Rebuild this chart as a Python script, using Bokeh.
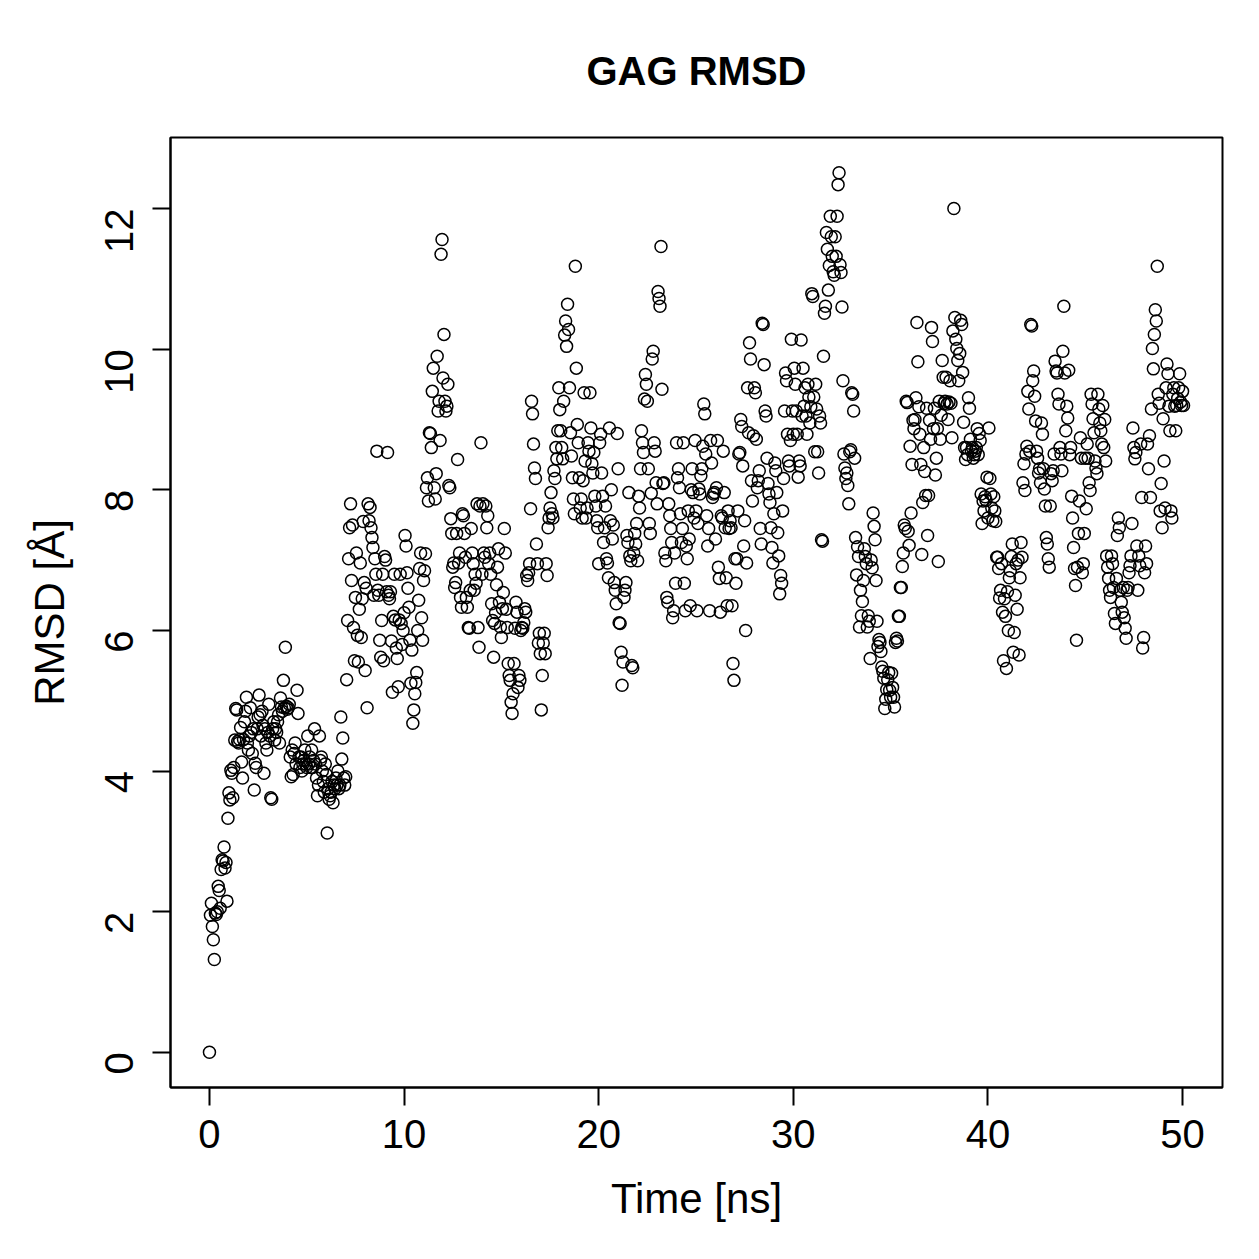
import math
from bokeh.plotting import figure
from bokeh.models import FixedTicker, ColumnDataSource, Range1d
from bokeh.embed import file_html
from bokeh.resources import INLINE

title_text = "GAG RMSD"
x_label = "Time [ns]"
y_label = "RMSD [Å]"
x_ticks = [0, 10, 20, 30, 40, 50]
y_ticks = [0, 2, 4, 6, 8, 10, 12]
frame_step_ns = 0.05

# RMSD per frame (one frame every 0.05 ns), one line per ns
rmsd = [0.0,
    1.95, 2.12, 1.79, 1.6, 1.32, 1.98, 1.96, 2.0, 2.36, 2.3, 2.05, 2.6, 2.74, 2.72, 2.92, 2.62, 2.7, 2.15, 3.33, 3.69,
    3.59, 4.01, 3.97, 3.62, 4.05, 4.44, 4.89, 4.87, 4.42, 4.4, 4.45, 4.62, 4.13, 3.9, 4.45, 4.7, 4.85, 5.05, 4.4, 4.3,
    4.5, 4.9, 4.55, 4.25, 4.6, 3.73, 4.11, 4.05, 4.6, 4.77, 5.08, 4.8, 4.5, 4.85, 4.65, 3.97, 4.6, 4.4, 4.3, 4.55,
    4.95, 4.5, 3.62, 3.6, 4.6, 4.7, 4.44, 4.6, 4.55, 4.7, 4.8, 4.4, 5.04, 4.91, 4.85, 5.29, 4.9, 5.76, 4.92, 4.88,
    4.9, 4.95, 4.2, 3.92, 4.3, 3.95, 4.25, 4.4, 4.1, 5.15, 4.82, 4.2, 4.05, 4.2, 4.0, 4.1, 4.15, 4.3, 4.1, 4.05,
    4.5, 4.1, 4.2, 4.05, 4.3, 4.05, 4.15, 4.6, 4.1, 3.9, 3.65, 3.8, 4.5, 4.15, 4.2, 4.0, 3.85, 3.7, 4.1, 3.95,
    3.12, 3.75, 3.6, 3.65, 3.7, 3.85, 3.55, 3.8, 3.75, 3.9, 3.8, 4.0, 3.75, 3.8, 4.77, 4.17, 4.47, 3.9, 3.8, 3.92,
    5.3, 6.14, 7.02, 7.46, 7.8, 6.71, 7.5, 6.04, 5.57, 6.47, 7.1, 5.93, 5.55, 6.3, 6.96, 5.9, 6.45, 7.55, 6.68, 5.43,
    6.6, 4.9, 7.8, 7.56, 7.75, 7.46, 7.32, 7.18, 6.5, 7.02, 6.8, 8.55, 6.57, 6.5, 5.86, 5.62, 6.14, 6.8, 5.57, 7.05,
    7.0, 6.55, 8.53, 6.5, 6.45, 6.55, 5.85, 5.12, 6.2, 6.8, 6.15, 5.75, 5.6, 5.2, 6.15, 6.8, 6.1, 5.8, 6.0, 6.25,
    7.35, 7.2, 6.82, 6.6, 6.33, 5.86, 5.25, 5.72, 4.68, 4.87, 5.1, 5.26, 5.4, 6.0, 6.43, 6.88, 7.1, 6.18, 5.86, 6.71,
    6.85, 7.09, 8.03, 8.17, 7.84, 8.81, 8.8, 8.6, 9.4, 9.73, 8.03, 7.87, 8.23, 9.9, 9.12, 9.26, 8.7, 11.35, 11.56, 9.59,
    10.21, 9.26, 9.12, 9.19, 9.5, 8.06, 8.03, 7.59, 7.38, 6.9, 6.96, 6.61, 6.68, 7.38, 8.43, 6.96, 7.1, 6.47, 6.33, 7.66,
    7.63, 7.38, 7.04, 6.47, 6.33, 6.04, 6.03, 6.57, 7.45, 7.1, 6.95, 6.57, 6.8, 6.67, 7.8, 6.04, 5.76, 7.77, 8.67, 6.8,
    7.8, 7.1, 7.04, 7.77, 7.46, 7.63, 6.95, 7.1, 6.8, 6.38, 6.14, 5.62, 6.1, 6.25, 6.65, 6.9, 7.16, 6.4, 6.05, 5.9,
    6.31, 6.54, 7.45, 7.1, 6.3, 6.04, 5.53, 5.36, 5.29, 4.98, 4.82, 5.1, 5.53, 6.03, 6.4, 6.26, 5.19, 5.36, 5.29, 6.0,
    6.04, 6.03, 6.11, 6.31, 6.26, 6.78, 6.71, 6.82, 6.95, 7.73, 9.26, 9.08, 8.65, 8.31, 8.16, 7.23, 6.95, 5.82, 5.96, 5.67,
    4.87, 5.36, 5.82, 5.96, 5.67, 6.95, 6.78, 7.46, 7.6, 7.74, 7.96, 7.66, 7.6, 8.27, 8.16, 8.6, 8.44, 8.84, 9.45, 9.14,
    8.84, 8.6, 8.44, 9.26, 10.2, 10.4, 10.04, 10.64, 10.28, 9.45, 8.81, 8.48, 8.17, 7.87, 7.66, 11.18, 9.73, 8.93, 8.67, 8.17,
    7.74, 7.87, 7.6, 8.13, 9.38, 8.41, 7.6, 7.74, 8.67, 8.55, 9.38, 8.88, 8.37, 8.24, 8.53, 7.91, 7.77, 7.56, 7.46, 6.95,
    8.67, 8.79, 8.24, 7.91, 7.25, 7.46, 7.77, 7.02, 6.96, 6.75, 8.88, 7.56, 8.0, 7.3, 7.5, 6.68, 6.57, 6.38, 8.8, 8.3,
    6.11, 6.1, 5.69, 5.22, 5.55, 6.47, 6.57, 6.68, 7.35, 7.25, 7.96, 7.06, 6.99, 5.5, 5.47, 7.1, 7.38, 7.23, 7.52, 6.99,
    7.91, 7.74, 8.3, 8.84, 8.67, 8.53, 9.29, 9.64, 9.5, 9.26, 8.3, 7.52, 7.38, 7.95, 9.86, 9.97, 8.67, 8.55, 8.1, 7.8,
    10.82, 10.72, 10.61, 11.46, 9.43, 8.09, 8.1, 7.1, 6.99, 6.47, 6.4, 7.8, 7.63, 7.45, 7.25, 6.18, 6.28, 7.1, 6.67, 8.67,
    8.17, 8.3, 8.03, 7.66, 7.25, 7.45, 8.67, 6.67, 6.28, 7.2, 7.02, 7.7, 7.3, 6.35, 8.0, 8.3, 7.96, 7.6, 8.7, 7.7,
    6.28, 7.52, 8.01, 7.94, 8.2, 8.3, 8.62, 9.22, 9.08, 8.51, 7.63, 7.2, 7.45, 6.28, 8.7, 8.38, 7.89, 7.94, 7.96, 7.3,
    8.03, 8.7, 6.9, 6.74, 6.26, 7.63, 7.6, 8.55, 7.96, 7.46, 6.75, 6.35, 7.7, 7.45, 7.56, 7.46, 6.35, 5.53, 5.29, 7.02,
    6.67, 7.02, 7.7, 8.51, 8.53, 9.0, 8.9, 8.34, 7.2, 7.56, 6.0, 6.96, 9.45, 8.81, 10.09, 9.86, 8.13, 7.84, 8.77, 9.45,
    9.38, 8.72, 8.03, 8.13, 8.27, 7.45, 7.23, 10.37, 10.35, 9.78, 9.12, 9.05, 8.45, 8.09, 7.94, 7.82, 7.46, 7.18, 6.96, 7.66,
    8.38, 8.27, 7.96, 7.39, 7.06, 6.52, 6.78, 6.67, 7.7, 8.16, 9.12, 9.66, 9.55, 8.79, 8.41, 8.34, 8.7, 10.14, 9.12, 8.79,
    9.73, 9.5, 9.12, 8.79, 8.18, 8.41, 8.34, 10.13, 9.05, 9.73, 9.19, 9.45, 9.05, 8.79, 9.5, 9.32, 8.95, 9.18, 10.79, 10.75,
    9.32, 8.54, 9.5, 9.15, 8.54, 8.24, 9.05, 8.95, 7.29, 7.27, 9.9, 10.51, 10.61, 11.66, 11.42, 10.84, 11.19, 11.89, 11.6, 11.32,
    11.1, 11.05, 11.6, 11.32, 11.89, 12.34, 12.51, 11.2, 11.09, 10.6, 9.55, 8.51, 8.31, 8.16, 8.24, 8.06, 7.8, 8.54, 8.57, 9.38,
    9.36, 9.12, 8.45, 7.32, 6.79, 7.19, 7.05, 6.05, 6.57, 6.21, 6.41, 6.71, 7.16, 7.05, 6.95, 6.05, 6.21, 6.13, 5.6, 7.0,
    6.89, 7.67, 7.48, 7.29, 6.71, 6.13, 5.77, 5.87, 5.83, 5.7, 5.48, 5.42, 5.32, 4.89, 5.02, 5.16, 5.3, 5.4, 5.15, 5.05,
    5.39, 5.19, 5.05, 4.91, 5.83, 5.89, 5.85, 6.2, 6.2, 6.61, 6.61, 6.91, 7.1, 7.5, 7.45, 9.26, 9.24, 7.41, 7.21, 8.62,
    7.67, 8.36, 8.99, 8.87, 9.0, 9.31, 10.38, 9.82, 9.18, 8.79, 8.36, 7.08, 7.82, 8.6, 8.26, 7.92, 9.16, 7.35, 7.92, 8.99,
    8.72, 10.31, 10.11, 8.87, 9.16, 8.21, 8.45, 8.87, 6.98, 9.26, 8.72, 9.06, 9.84, 9.6, 9.23, 9.26, 9.6, 9.22, 9.0, 9.25,
    9.55, 9.23, 8.74, 10.26, 12.0, 10.45, 10.14, 10.01, 9.84, 9.55, 9.94, 10.41, 10.35, 9.67, 8.96, 8.6, 8.43, 8.6, 8.5, 9.31,
    9.16, 8.72, 8.55, 8.6, 8.45, 8.5, 8.55, 8.6, 8.87, 8.5, 8.8, 8.7, 7.94, 7.52, 7.84, 7.7, 7.9, 7.85, 8.18, 7.6,
    8.88, 8.16, 7.94, 7.74, 7.56, 7.9, 7.7, 7.55, 7.04, 7.04, 6.88, 6.46, 6.57, 6.95, 6.26, 5.57, 6.45, 6.2, 5.46, 6.55,
    6.0, 6.75, 6.85, 7.05, 7.23, 5.69, 5.97, 6.5, 6.95, 6.3, 7.0, 5.65, 6.75, 7.25, 7.04, 8.1, 8.37, 7.99, 8.51, 8.62,
    9.4, 9.15, 8.55, 10.35, 10.33, 9.55, 9.69, 9.33, 8.98, 8.55, 8.45, 8.24, 8.3, 8.1, 8.95, 8.79, 8.3, 8.01, 7.77, 7.32,
    7.23, 7.02, 6.9, 7.77, 8.23, 8.13, 8.27, 8.51, 9.83, 9.69, 9.66, 9.36, 9.22, 8.6, 8.51, 8.27, 9.97, 10.61, 9.66, 8.84,
    9.19, 9.02, 9.7, 8.5, 8.6, 7.91, 7.6, 7.18, 6.88, 6.64, 5.86, 6.9, 7.38, 7.84, 8.74, 8.45, 6.82, 6.95, 7.38, 8.45,
    7.73, 8.65, 8.45, 8.1, 7.99, 9.36, 9.22, 9.01, 8.81, 8.41, 8.31, 8.23, 9.36, 9.15, 8.95, 8.84, 8.65, 9.2, 8.6, 9.0,
    8.41, 7.06, 6.9, 6.74, 6.57, 6.47, 7.06, 6.95, 6.61, 6.24, 6.1, 6.74, 7.35, 7.6, 7.46, 6.57, 6.4, 6.26, 6.61, 6.18,
    6.03, 5.89, 6.57, 6.61, 6.82, 6.92, 7.06, 7.52, 8.88, 8.6, 8.44, 8.53, 7.2, 6.57, 7.06, 6.92, 8.65, 7.89, 5.75, 5.9,
    6.82, 7.2, 6.95, 8.65, 8.3, 8.77, 7.89, 9.15, 10.01, 9.72, 10.21, 10.56, 10.4, 11.18, 9.36, 9.23, 7.7, 8.09, 7.46, 9.01,
    8.41, 7.74, 9.45, 9.79, 9.65, 9.19, 8.84, 7.7, 7.6, 9.36, 9.45, 9.19, 8.84, 9.2, 9.3, 9.45, 9.65, 9.25, 9.2, 9.4,
    9.2,
]

time_ns = [round(i * frame_step_ns, 3) for i in range(len(rmsd))]
source = ColumnDataSource(data=dict(t=time_ns, r=rmsd))

# R-style 4% axis padding
xmin, xmax = min(time_ns), max(time_ns)
ymin, ymax = min(rmsd), max(rmsd)
xpad = 0.04 * (xmax - xmin)
ypad = 0.04 * (ymax - ymin)

FONT = "Liberation Sans"

p = figure(
    frame_width=1052, frame_height=950,
    min_border_left=170, min_border_right=37,
    min_border_top=137, min_border_bottom=172,
    x_range=Range1d(xmin - xpad, xmax + xpad),
    y_range=Range1d(ymin - ypad, ymax + ypad),
    output_backend="svg", toolbar_location=None,
    background_fill_color="white", border_fill_color="white",
)

p.title.text = title_text
p.title.align = "center"
p.title.text_font = FONT
p.title.text_font_size = "40px"
p.title.text_font_style = "bold"
p.title.text_color = "black"
p.title.standoff = 89

p.xgrid.visible = False
p.ygrid.visible = False
p.outline_line_color = "black"
p.outline_line_width = 2
p.outline_line_alpha = 1.0

p.xaxis.ticker = FixedTicker(ticks=x_ticks)
p.yaxis.ticker = FixedTicker(ticks=y_ticks)
p.xaxis.axis_label = x_label
p.yaxis.axis_label = y_label

for ax in (p.xaxis[0], p.yaxis[0]):
    ax.axis_line_color = "black"
    ax.axis_line_width = 2
    ax.major_tick_line_color = "black"
    ax.major_tick_line_width = 2
    ax.major_tick_out = 18
    ax.major_tick_in = 0
    ax.minor_tick_line_color = None
    ax.major_label_text_font = FONT
    ax.major_label_text_font_size = "40px"
    ax.major_label_text_color = "black"
    ax.axis_label_text_font = FONT
    ax.axis_label_text_font_size = "42px"
    ax.axis_label_text_font_style = "normal"
    ax.axis_label_text_color = "black"

p.xaxis.major_label_standoff = 14
p.xaxis.axis_label_standoff = 24
p.yaxis.major_label_orientation = math.pi / 2
p.yaxis.major_label_standoff = 33
p.yaxis.axis_label_standoff = 16

p.scatter("t", "r", source=source, marker="circle", size=12,
          fill_color=None, line_color="black", line_width=1.5)

open("out.html", "w").write(file_html(p, INLINE))
